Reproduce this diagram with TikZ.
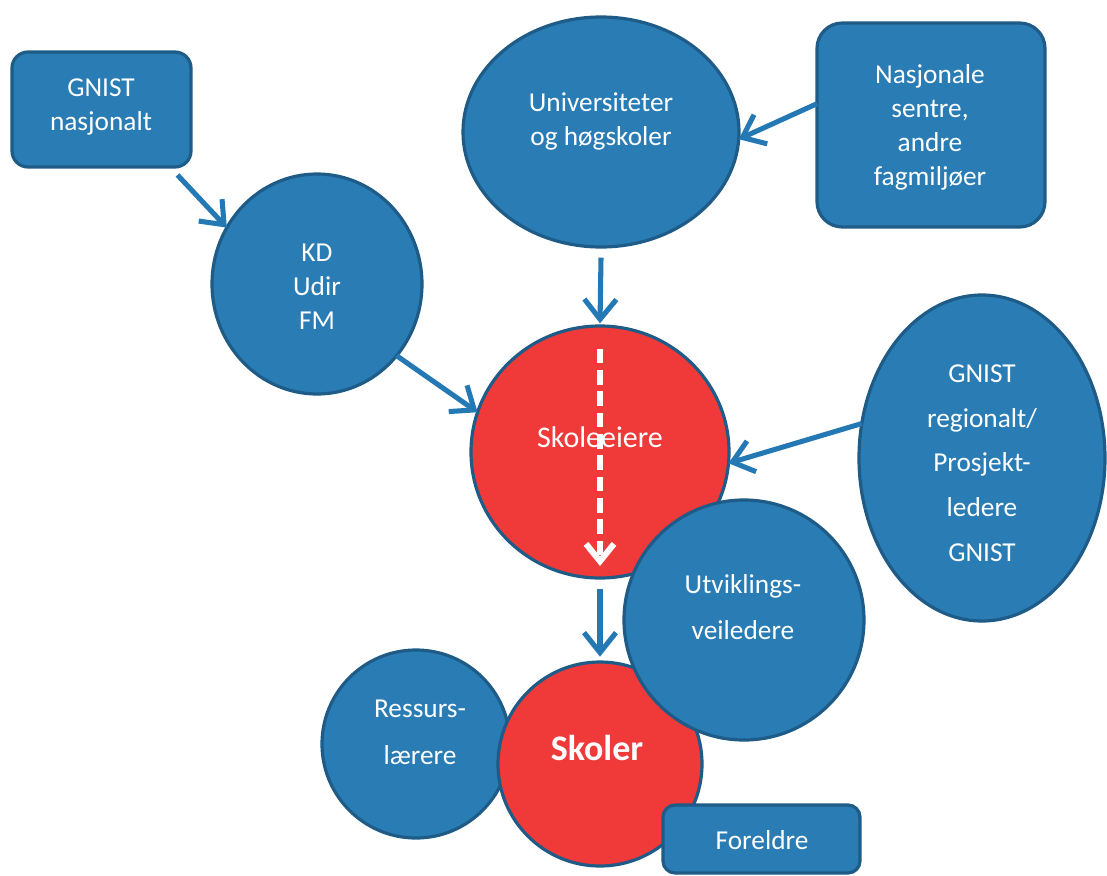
\documentclass[tikz,border=0pt]{standalone}
\usepackage{fontspec}
\setmainfont{Carlito}
\usetikzlibrary{shapes.geometric,arrows.meta}
\definecolor{nodeblue}{RGB}{41,124,180}
\definecolor{edgeblue}{RGB}{30,92,135}
\definecolor{nodered}{RGB}{240,58,58}
\definecolor{arrowblue}{RGB}{36,120,180}
\begin{document}
\begin{tikzpicture}[x=0.75pt,y=-0.75pt,
  shapebase/.style={draw=edgeblue,line width=2.4pt,inner sep=0pt,outer sep=0pt},
  bluebox/.style={shapebase,fill=nodeblue,rectangle},
  blueell/.style={shapebase,fill=nodeblue,ellipse},
  redell/.style={shapebase,fill=nodered,ellipse},
  lbl/.style={text=white,align=center,inner sep=0pt,font=\fontsize{20.5}{25.5}\selectfont},
  lblwide/.style={lbl,font=\fontsize{20.5}{35}\selectfont},
  arr/.style={draw=arrowblue,line width=3.8pt,-{Straight Barb[length=15pt,width=24pt]}},
  dasharr/.style={draw=white,line width=4.5pt,dash pattern=on 11pt off 5pt,-{Straight Barb[length=13pt,width=21pt]}},
]
\useasboundingbox (0,0) rectangle (1107,875);
\fill[white] (0,0) rectangle (1107,875);

% shapes
\node[bluebox,rounded corners=12pt,minimum width=179*0.75pt,minimum height=115*0.75pt] (gn) at (101.5,109.5) {};
\node[bluebox,rounded corners=19pt,minimum width=228*0.75pt,minimum height=204*0.75pt] (nas) at (931,125) {};
\node[blueell,minimum width=276*0.75pt,minimum height=230*0.75pt] (univ) at (601,132) {};
\node[blueell,minimum width=210*0.75pt,minimum height=220*0.75pt] (kd) at (317,284) {};
\node[blueell,minimum width=246*0.75pt,minimum height=326*0.75pt] (gr) at (982,458) {};
\node[redell,minimum width=258*0.75pt,minimum height=252*0.75pt] (se) at (600,452) {};
\node[blueell,minimum width=188*0.75pt,minimum height=188*0.75pt] (res) at (416,744) {};
\node[redell,minimum width=204*0.75pt,minimum height=204*0.75pt] (sk) at (600,764) {};
\node[blueell,minimum width=240*0.75pt,minimum height=240*0.75pt] (utv) at (744,620) {};
\node[bluebox,rounded corners=9pt,minimum width=197*0.75pt,minimum height=68*0.75pt] (for) at (761.5,839) {};

% labels
\node[lbl] (gnt) at (101,107) {GNIST\\nasjonalt};
\node[lbl] (nast) at (930,127) {Nasjonale\\sentre,\\andre\\fagmiljøer};
\node[lbl] (univt) at (601,121) {Universiteter\\og høgskoler};
\node[lbl] (kdt) at (317,287) {KD\\Udir\\FM};
\node[lbl,font=\fontsize{20.5}{33.5}\selectfont] (grt) at (982,463) {GNIST\\regionalt/\\Prosjekt-\\ledere\\GNIST};
\node[lbl,font=\fontsize{22.5}{27}\selectfont] (set) at (600,437) {Skoleeiere};
\node[lblwide] (rest) at (420,732) {Ressurs-\\lærere};
\node[lbl,font=\fontsize{27}{32}\selectfont\bfseries] (skt) at (597,748) {Skoler};
\node[lblwide] (utvt) at (743,607) {Utviklings-\\veiledere};
\node[lbl] (fort) at (762,840) {Foreldre};

% connectors
\draw[arr] ([xshift=57pt,yshift=-6pt]gn.south) -- (kd.148);
\draw[arr] (kd.-42) -- (se.162);
\draw[arr] ([yshift=-8pt]univ.south) -- ([yshift=2pt]se.north);
\draw[arr] ([yshift=16pt]nas.west) -- (univ.-3);
\draw[arr] (gr.164) -- (se.-5);
\draw[arr] ([yshift=-8pt]se.south) -- ([yshift=4pt]sk.north);
\draw[dasharr] ([yshift=-17pt]se.north) -- ([yshift=9pt]se.south);
\end{tikzpicture}
\end{document}
